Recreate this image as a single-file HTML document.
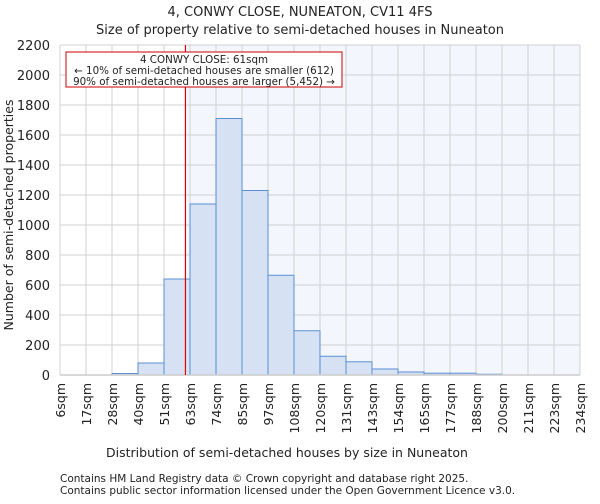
<!DOCTYPE html>
<html><head><meta charset="utf-8"><style>
body{margin:0;background:#fff;font-family:"DejaVu Sans","Liberation Sans",sans-serif}
svg text{font-family:"DejaVu Sans","Liberation Sans",sans-serif;fill:#222}
</style></head><body>
<svg width="600" height="500">
<text x="300" y="16" font-size="13" text-anchor="middle">4, CONWY CLOSE, NUNEATON, CV11 4FS</text>
<text x="300" y="34" font-size="13" text-anchor="middle">Size of property relative to semi-detached houses in Nuneaton</text>
<g id="plot"></g>
<text x="287" y="457" font-size="12.5" text-anchor="middle">Distribution of semi-detached houses by size in Nuneaton</text>
<text transform="translate(13,215) rotate(-90)" font-size="12.5" text-anchor="middle">Number of semi-detached properties</text>
<text x="60" y="482" font-size="10.5" fill="#444">Contains HM Land Registry data © Crown copyright and database right 2025.</text>
<text x="60" y="494" font-size="10.5" fill="#444">Contains public sector information licensed under the Open Government Licence v3.0.</text>
</svg>
<script>
const categories=["6sqm","17sqm","28sqm","40sqm","51sqm","63sqm","74sqm","85sqm","97sqm","108sqm","120sqm","131sqm","143sqm","154sqm","165sqm","177sqm","188sqm","200sqm","211sqm","223sqm","234sqm"];
const counts=[0,0,10,80,640,1140,1710,1230,665,295,125,88,40,20,12,12,5,0,0,0];
const yTicks=[0,200,400,600,800,1000,1200,1400,1600,1800,2000,2200];
const propertySize=61;
const binStart=6, binWidth=11.4;
const x0=60,x1=580,y0=375,y1=45,yMax=2200;
const nb=counts.length;
const X=v=>x0+(v-binStart)/(binWidth*nb)*(x1-x0);
const XI=i=>x0+i*(x1-x0)/nb;
const Y=v=>y0-v/yMax*(y0-y1);
const g=document.getElementById('plot');
const NS='http://www.w3.org/2000/svg';
function mk(t,a){const e=document.createElementNS(NS,t);for(const k in a)e.setAttribute(k,a[k]);g.appendChild(e);return e;}
const px=X(propertySize);
let r=mk('rect',{x:px,y:y1,width:x1-px,height:y0-y1,fill:'#f3f6fd'});

for(let i=0;i<=nb;i++){let l=mk('line',{x1:XI(i),x2:XI(i),y1:y1,y2:y0,stroke:'#d0d0d0','stroke-width':1});
}
yTicks.forEach(t=>{let l=mk('line',{x1:x0,x2:x1,y1:Y(t),y2:Y(t),stroke:'#d0d0d0','stroke-width':1});

let tx=mk('text',{x:x0-10,y:Y(t)+5,'font-size':13,'text-anchor':'end'});tx.textContent=t;
});
counts.forEach((c,i)=>{if(c<=0)return;let b=mk('rect',{x:XI(i),y:Y(c),width:XI(i+1)-XI(i),height:y0-Y(c),fill:'#d6e2f3',stroke:'#5b8fd4','stroke-width':1});
});
categories.forEach((c,i)=>{let tx=mk('text',{transform:`translate(${XI(i)+5},${y0+8}) rotate(-90)`,'font-size':12.5,'text-anchor':'end'});tx.textContent=c;
});
let ax=mk('line',{x1:x0,x2:x1,y1:y0,y2:y0,stroke:'#ccc','stroke-width':1.5});

let ml=mk('line',{x1:px,x2:px,y1:y1,y2:y0,stroke:'#d00','stroke-width':1.2});

let box=mk('rect',{x:66,y:52,width:276,height:35,fill:'#fff',stroke:'#c00','stroke-width':1});

["4 CONWY CLOSE: 61sqm","← 10% of semi-detached houses are smaller (612)","90% of semi-detached houses are larger (5,452) →"].forEach((s,k)=>{
let tx=mk('text',{x:204,y:63+k*11,'font-size':10.3,'text-anchor':'middle'});tx.textContent=s;
});
</script>
</body></html>
